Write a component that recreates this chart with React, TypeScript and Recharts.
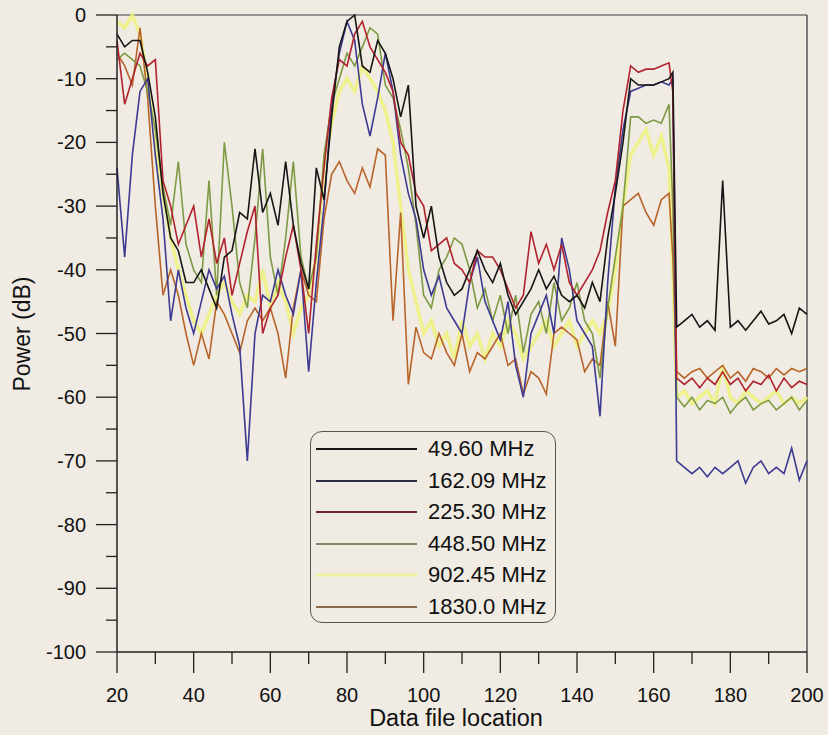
import { LineChart, Line, XAxis, YAxis, ReferenceLine } from 'recharts';

// data file locations (x)
const locations = [
  20, 22, 24, 26, 28, 30, 32, 34, 36, 38,
  40, 42, 44, 46, 48, 50, 52, 54, 56, 58,
  60, 62, 64, 66, 68, 70, 72, 74, 76, 78,
  80, 82, 84, 86, 88, 90, 92, 94, 96, 98,
  100, 102, 104, 106, 108, 110, 112, 114, 116, 118,
  120, 122, 124, 126, 128, 130, 132, 134, 136, 138,
  140, 142, 144, 146, 148, 150, 152, 154, 156, 158,
  160, 162, 164, 165,
  166, 168, 170, 172, 174, 176, 178, 180, 182, 184, 186, 188, 190, 192, 194, 196, 198, 200,
];

// power (dB) per frequency
const p4960 = [
  -3, -5, -4, -4, -9, -16, -28, -35, -37, -42,
  -42, -40, -43, -46, -38, -37, -31, -32, -21, -31,
  -28, -33, -23, -33, -39, -43, -24, -29, -16, -5,
  -1, 0, -8, -9, -4, -6, -10, -16, -11, -30,
  -35, -30, -38, -42, -44, -43, -40, -37, -40, -42,
  -39, -44, -47, -45, -43, -40, -43, -41, -44, -45,
  -44, -46, -42, -45, -35, -28, -20, -10, -11, -11,
  -11, -10.5, -10, -9,
  -49, -48, -47, -49, -48, -49.5, -26, -49, -48, -49.5, -48, -46.5, -48.5, -48, -47, -50, -46, -47,
];
const p16209 = [
  -24, -38, -22, -12, -10, -22, -32, -48, -40, -46,
  -50, -45, -40, -43, -41, -47, -52, -70, -50, -44,
  -45, -40, -44, -47, -40, -56, -42, -30, -14, -6,
  -1, -4, -14, -19, -13, -6, -12, -22, -28, -32,
  -40, -44, -41, -46, -48, -50, -42, -38, -45, -48,
  -51, -45, -55, -60, -50, -47, -44, -50, -35, -40,
  -48, -50, -52, -63, -42, -27, -18, -12, -11.5, -11,
  -11, -10.5, -11, -10,
  -70, -71, -72, -71, -72.5, -71, -72, -71, -70, -73.5, -71, -70, -72, -71, -72, -68, -73, -70,
];
const p22530 = [
  -4, -14, -10, -6, -8, -7, -26, -30, -36, -33,
  -30, -38, -32, -39, -35, -44, -39, -34, -30, -50,
  -46, -44, -38, -33, -40, -50, -36, -24, -13, -7,
  -8, -3, -1, -5, -7, -9, -12, -20, -22, -28,
  -30, -37, -36, -35, -39, -40, -42, -37, -38, -38,
  -40, -43, -46, -44, -34, -39, -36, -40, -36, -42,
  -44, -42, -40, -37, -31, -26, -15, -8, -9, -8.5,
  -8.5, -8, -7.5, -12,
  -57, -58, -57, -58.5, -57, -58, -56, -58, -57, -59, -57.5, -58, -56.5, -59, -57, -58.5, -57.5, -58,
];
const p44850 = [
  -7, -6, -7, -8, -12, -18, -27, -33, -23, -36,
  -40, -42, -26, -44, -20, -30, -42, -46, -35, -21,
  -38, -44, -35, -23, -38, -43, -38, -22, -14, -10,
  -6, -8, -5, -2, -3, -11, -13, -18, -24, -33,
  -44, -46, -40, -38, -35, -36, -40, -46, -43, -48,
  -44, -50, -44, -53, -47, -45, -50, -42, -48, -46,
  -42, -48, -50, -57, -46, -38, -30, -16, -16, -17,
  -16.5, -17, -14, -30,
  -60, -61.5, -60, -62, -60.5, -61, -60, -62.5, -61, -60, -62, -61, -60.5, -62, -61, -60, -62, -60.5,
];
const p90245 = [
  -1, -2, 0, -3, -10, -20, -28, -35, -40, -44,
  -48, -50, -47, -44, -42, -45, -47, -44, -45, -40,
  -46, -42, -45, -50, -46, -44, -38, -24, -17, -12,
  -10, -12, -8, -10, -12, -15, -20, -30, -40, -45,
  -50, -48, -52, -50, -54, -48, -52, -50, -54, -50,
  -52, -48, -50, -54, -52, -50, -48, -52, -50, -48,
  -52, -50, -48, -50, -47, -40, -30, -22, -20, -18,
  -22, -19, -24, -40,
  -60, -59, -61, -60, -59, -61, -55, -60, -61, -59, -60, -61, -60, -59, -61, -60, -61, -60,
];
const p18300 = [
  -6, -8, -11, -2, -13, -30, -44, -40, -44, -50,
  -55, -50, -54, -45, -47, -50, -53, -48, -46, -48,
  -46, -50, -57, -46, -40, -44, -45, -32, -25, -23,
  -26, -28, -24, -27, -21, -22, -48, -31, -58, -49,
  -53, -54, -50, -53, -55, -50, -56, -53, -54, -52,
  -50, -55, -54, -59.5, -56, -57, -59.5, -50, -49, -50,
  -51, -56, -54, -55, -45, -52, -30, -29, -28, -31,
  -33, -29, -28, -38,
  -56, -57, -56, -55.5, -57, -56, -55, -57, -56, -57.5, -55.5, -56, -57, -55.5, -56.5, -55.5, -56, -55.5,
];

const seriesNames = ['49.60 MHz', '162.09 MHz', '225.30 MHz', '448.50 MHz', '902.45 MHz', '1830.0 MHz'];
const seriesColors = ['#161616', '#3d3a92', '#b0232e', '#7e9a44', '#eef27e', '#b8642a'];
const seriesLegendColors = ['#161616', '#2e2e4a', '#6e2a2a', '#8a8468', '#eef2a0', '#8a6a48'];
const seriesValues = [p4960, p16209, p22530, p44850, p90245, p18300];
const drawOrder = [4, 5, 3, 1, 2, 0];

const xTicks = [20, 30, 40, 50, 60, 70, 80, 90, 100, 110, 120, 130, 140, 150, 160, 170, 180, 190, 200];
const yTicks = [0, -5, -10, -15, -20, -25, -30, -35, -40, -45, -50, -55, -60, -65, -70, -75, -80, -85, -90, -95, -100];

const data = locations.map((x, i) => {
  const row: Record<string, number> = { x };
  seriesValues.forEach((vals, s) => {
    row['s' + s] = vals[i];
  });
  return row;
});

const font = '"Liberation Sans", Arial, sans-serif';
const bg = '#f0ebe3';

const XTick = (props: any) => {
  const { x, y, payload } = props;
  const major = payload.value % 20 === 0;
  return (
    <g>
      <line x1={x} x2={x} y1={y} y2={y + (major ? 21 : 12)} stroke="#222" strokeWidth={1.3} />
      {major && (
        <text x={x} y={y + 50} textAnchor="middle" fontSize={20} fontFamily={font} fill="#111">
          {payload.value}
        </text>
      )}
    </g>
  );
};

const YTick = (props: any) => {
  const { x, y, payload } = props;
  const major = payload.value % 10 === 0;
  return (
    <g>
      <line x1={x - (major ? 21 : 11)} x2={x} y1={y} y2={y} stroke="#222" strokeWidth={1.3} />
      {major && (
        <text x={x - 31} y={y + 7} textAnchor="end" fontSize={20} fontFamily={font} fill="#111">
          {payload.value}
        </text>
      )}
    </g>
  );
};

const App = () => {
  return (
    <div style={{ position: 'absolute', left: 0, top: 0, width: 828, height: 735, background: bg, fontFamily: font }}>
      <LineChart width={828} height={735} data={data} margin={{ top: 15, right: 21, bottom: 53, left: 0 }}>
        <XAxis
          dataKey="x"
          type="number"
          domain={[20, 200]}
          ticks={xTicks}
          interval={0}
          height={30}
          tick={<XTick />}
          tickLine={false}
          tickSize={0}
          tickMargin={0}
          axisLine={{ stroke: '#222', strokeWidth: 1.5 }}
        />
        <YAxis
          type="number"
          domain={[-100, 0]}
          ticks={yTicks}
          interval={0}
          width={117}
          tick={<YTick />}
          tickLine={false}
          tickSize={0}
          tickMargin={0}
          axisLine={{ stroke: '#222', strokeWidth: 1.5 }}
        />
        <ReferenceLine y={0} stroke="#777" strokeWidth={1.3} />
        <ReferenceLine x={200} stroke="#555" strokeWidth={1.5} />
        {drawOrder.map((s) => (
          <Line
            key={s}
            type="linear"
            dataKey={'s' + s}
            name={seriesNames[s]}
            stroke={seriesColors[s]}
            strokeWidth={s === 4 ? 3.5 : 1.6}
            strokeOpacity={s === 4 ? 0.85 : 1}
            dot={false}
            isAnimationActive={false}
          />
        ))}
      </LineChart>

      <div
        style={{
          position: 'absolute',
          left: 22,
          top: 334,
          transform: 'translate(-50%, -50%) rotate(-90deg)',
          whiteSpace: 'nowrap',
          fontSize: 23,
          color: '#111',
        }}
      >
        Power (dB)
      </div>
      <div
        style={{
          position: 'absolute',
          left: 456,
          top: 718,
          transform: 'translate(-50%, -50%)',
          whiteSpace: 'nowrap',
          fontSize: 23.5,
          color: '#111',
        }}
      >
        Data file location
      </div>

      <div
        style={{
          position: 'absolute',
          left: 310,
          top: 431,
          width: 244,
          height: 190,
          border: '1.5px solid #555',
          borderRadius: 12,
          background: bg,
        }}
      >
        {seriesNames.map((name, i) => (
          <div
            key={name}
            style={{
              position: 'absolute',
              left: 0,
              top: 17 + i * 31.5 - 14,
              height: 28,
              display: 'flex',
              alignItems: 'center',
            }}
          >
            <svg width={112} height={28} style={{ display: 'block' }}>
              <line x1={5} x2={106} y1={14} y2={14} stroke={seriesLegendColors[i]} strokeWidth={i === 4 ? 3 : 1.8} />
            </svg>
            <span style={{ marginLeft: 5, fontSize: 22, color: '#111', whiteSpace: 'nowrap' }}>{name}</span>
          </div>
        ))}
      </div>
    </div>
  );
};

export default App;
